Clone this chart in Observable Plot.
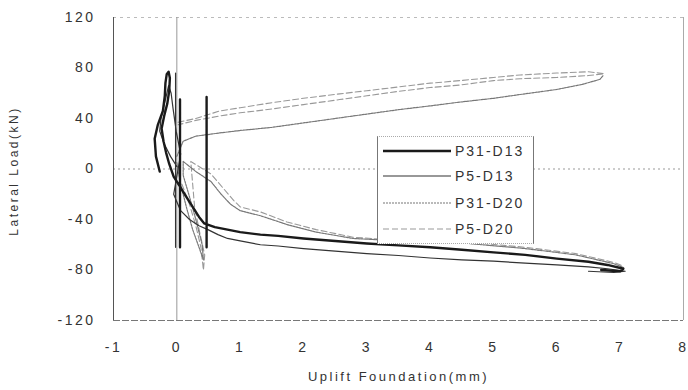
<!DOCTYPE html>
<html>
<head>
<meta charset="utf-8">
<script src="https://cdn.jsdelivr.net/npm/d3@7"></script>
<script src="https://cdn.jsdelivr.net/npm/@observablehq/plot@0.6"></script>
<style>
  html, body { margin: 0; padding: 0; background: #fff; }
  #wrap { position: relative; width: 688px; height: 390px; font-family: "Liberation Sans", Arial, sans-serif; }
  #wrap svg text { letter-spacing: 2.5px; }
  #legend { position: absolute; left: 377px; top: 136px; width: 157px; height: 108px; background: #fff;
    border-left: 1px solid #777; border-right: 1px solid #777; border-top: 1px dotted #aaa; border-bottom: 1px dotted #aaa; box-sizing: border-box; }
  .lg-row { position: absolute; left: 5px; height: 20px; display: flex; align-items: center; }
  .lg-row span { font-size: 14px; letter-spacing: 2px; color: #333; margin-left: 4px; }
</style>
</head>
<body>
<div id="wrap"><div id="legend"></div></div>
<script>
// ---- tick labels ----
const xTicks = [-1, 0, 1, 2, 3, 4, 5, 6, 7, 8];
const yTicks = [-120, -80, -40, 0, 40, 80, 120];
const seriesNames = ["P31-D13", "P5-D13", "P31-D20", "P5-D20"];

// ---- series values: [uplift (mm), lateral load (kN)], null = gap ----
const p31d13 = [
  [0.05, 55], [0.05, -62], null,
  [0.47, 57], [0.47, -62], null,
  [-0.27, -2], [-0.33, 10], [-0.35, 24], [-0.3, 35], [-0.22, 46], [-0.19, 58], [-0.18, 68],
  [-0.16, 75], [-0.13, 77], [-0.11, 72], [-0.12, 62], [-0.15, 52], [-0.2, 42], [-0.24, 32],
  [-0.21, 22], [-0.17, 13], [-0.12, 4], [-0.05, -6], [0.05, -14], [0.15, -22], [0.25, -30],
  [0.35, -38], [0.43, -43], [0.6, -46], [0.8, -48], [1.0, -50], [1.32, -52], [1.6, -53],
  [2.0, -55], [2.5, -57], [3.0, -59], [3.5, -60.5], [4.0, -62], [4.5, -64], [5.0, -66],
  [5.5, -68], [6.0, -71], [6.5, -73.5], [6.8, -76], [7.05, -79], [7.0, -81], [6.7, -80]
];
const p5d13 = [
  [-0.02, 76], [-0.02, -62], null,
  [0.0, 2], [-0.1, 10], [-0.2, 20], [-0.27, 30], [-0.25, 40], [-0.18, 55], [-0.13, 66],
  [-0.09, 60], [-0.06, 48], [-0.01, 30], [0.06, 12], [0.02, 0], [-0.05, -20], [0.06, -33],
  [0.2, -40], [0.35, -45], [0.49, -48], [0.65, -52], [0.8, -55], [1.0, -57], [1.32, -60],
  [1.6, -61], [2.0, -63], [2.5, -65], [3.0, -67], [3.5, -68.5], [4.0, -70.5], [4.5, -72],
  [5.0, -73], [5.5, -74.5], [6.0, -76], [6.5, -77.5], [6.8, -79], [7.08, -81], [6.9, -82], [6.5, -81]
];
const p31d20 = [
  [0.0, 10], [0.1, 22], [0.3, 26], [0.68, 28.6], [1.0, 30.5], [1.5, 33], [2.0, 36.5],
  [2.57, 40.5], [3.0, 43.5], [3.5, 47], [4.0, 50], [4.47, 53], [5.0, 56], [5.42, 59],
  [6.0, 63], [6.4, 67], [6.68, 71], [6.73, 74], null,
  [0.0, 5], [0.05, -10], [0.15, -30], [0.25, -48], [0.35, -62], [0.42, -72], [0.4, -60],
  [0.3, -40], [0.2, -22], [0.1, -5], [0.1, 6], [0.3, -2], [0.54, -10], [0.7, -20],
  [0.85, -28], [1.0, -33], [1.32, -37], [1.74, -44], [2.2, -50], [2.78, -55], [3.16, -56],
  [4.0, -58], [4.6, -59], [5.5, -63], [6.3, -68], [6.9, -75], [7.05, -78]
];
const p5d20 = [
  [0.02, 37], [0.3, 40], [0.68, 46], [1.0, 48.5], [1.5, 52.5], [2.0, 56], [2.57, 59.5],
  [3.0, 62], [3.5, 65], [4.0, 68], [4.47, 70], [5.0, 72.5], [5.42, 74.5], [6.0, 76],
  [6.5, 77], [6.75, 75.5], [6.5, 74], [6.0, 72.5], [5.42, 71.5], [5.0, 70], [4.47, 66.5],
  [4.0, 64.5], [3.5, 61.5], [3.0, 58], [2.57, 55], [2.0, 51], [1.5, 47.5], [1.0, 44.5],
  [0.68, 42], [0.3, 38.5], [0.02, 35], null,
  [0.08, -12], [0.2, -28], [0.3, -45], [0.38, -62], [0.42, -80], [0.44, -68], [0.36, -50],
  [0.28, -30], [0.22, 6], [0.54, -4], [0.9, -25], [1.0, -30], [1.32, -34], [1.74, -42],
  [2.2, -48], [2.78, -54], [3.2, -55.5], [4.0, -57], [4.6, -58], [5.5, -62], [6.3, -67],
  [6.9, -74], [7.05, -77]
];

// styles per series (presentation only)
const styles = {
  "P31-D13": {stroke: "#1a1a1a", strokeWidth: 2.4, dash: null},
  "P5-D13":  {stroke: "#333",    strokeWidth: 1.2, dash: null},
  "P31-D20": {stroke: "#777",    strokeWidth: 1.2, dash: "2,1"},
  "P5-D20":  {stroke: "#999",    strokeWidth: 1.1, dash: "6,3"}
};

function toRows(arr) {
  return arr.map(p => p ? {x: p[0], y: p[1]} : {x: NaN, y: NaN});
}
const seriesData = [p31d13, p5d13, p31d20, p5d20];

const lineMarks = seriesData.map((arr, i) => {
  const s = styles[seriesNames[i]];
  return Plot.line(toRows(arr), {x: "x", y: "y", stroke: s.stroke, strokeWidth: s.strokeWidth,
    strokeDasharray: s.dash || undefined, curve: "linear"});
}).reverse();

const chart = Plot.plot({
  width: 688,
  height: 390,
  marginLeft: 113,
  marginRight: 5,
  marginTop: 17,
  marginBottom: 70,
  style: {fontFamily: "'Liberation Sans', Arial, sans-serif", fontSize: "14px", color: "#333", background: "#fff"},
  x: {domain: [-1, 8]},
  y: {domain: [-120, 120]},
  marks: [
    Plot.ruleY([120], {stroke: "#bbb", strokeDasharray: "3,4"}),
    Plot.ruleY([-120], {stroke: "#777", strokeDasharray: "7,2"}),
    Plot.ruleY([0], {stroke: "#999", strokeDasharray: "2,3"}),
    Plot.ruleX([-1], {stroke: "#555"}),
    Plot.ruleX([8], {stroke: "#aaa"}),
    Plot.ruleX([0], {stroke: "#999"}),
    ...lineMarks,
    Plot.axisX({ticks: xTicks, tickSize: 0, tickPadding: 22, label: null, tickFormat: d => String(d)}),
    Plot.axisY({ticks: yTicks, tickSize: 0, tickPadding: 18, label: null, tickFormat: d => String(d)}),
    Plot.text(["Uplift Foundation(mm)"], {frameAnchor: "bottom", dy: 60, text: d => d, fontSize: 13}),
    Plot.text(["Lateral Load(kN)"], {frameAnchor: "middle", dx: -384, dy: 2, rotate: -90, text: d => d, fontSize: 12})
  ]
});
document.getElementById("wrap").prepend(chart);

// legend
const legend = document.getElementById("legend");
const rowTops = [4, 29, 56, 82];
seriesNames.forEach((name, i) => {
  const s = styles[name];
  const row = document.createElement("div");
  row.className = "lg-row";
  row.style.top = rowTops[i] + "px";
  const ns = "http://www.w3.org/2000/svg";
  const sv = document.createElementNS(ns, "svg");
  sv.setAttribute("width", 68); sv.setAttribute("height", 20);
  const ln = document.createElementNS(ns, "line");
  ln.setAttribute("x1", 0); ln.setAttribute("x2", 68); ln.setAttribute("y1", 10); ln.setAttribute("y2", 10);
  ln.setAttribute("stroke", s.stroke); ln.setAttribute("stroke-width", s.strokeWidth);
  if (s.dash) ln.setAttribute("stroke-dasharray", s.dash);
  sv.appendChild(ln);
  const sp = document.createElement("span");
  sp.textContent = name;
  row.appendChild(sv); row.appendChild(sp);
  legend.appendChild(row);
});
</script>
</body>
</html>
